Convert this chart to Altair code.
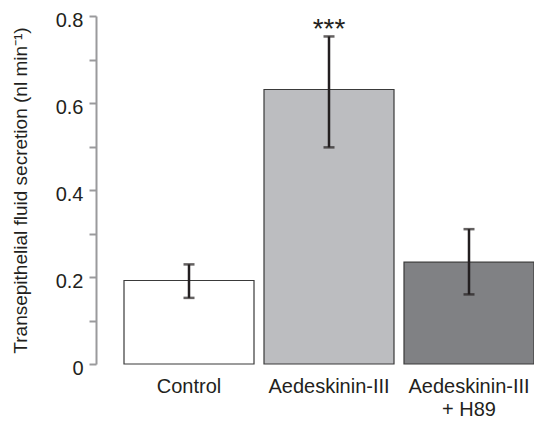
import altair as alt
import pandas as pd

categories = ["Control", "Aedeskinin-III", "Aedeskinin-III|+ H89"]
means = [0.192, 0.631, 0.234]
err_lo = [0.152, 0.498, 0.160]
err_hi = [0.229, 0.753, 0.310]
fills = ["#ffffff", "#bcbdc0", "#808184"]
stars = ["", "***", ""]

df = pd.DataFrame({
    "cat": categories, "mean": means, "lo": err_lo, "hi": err_hi,
    "fill": fills, "star": stars,
})

FONT = "Liberation Sans"
TXT = "#231f20"

x = alt.X("cat:N", sort=categories,
          scale=alt.Scale(paddingInner=0.0714, paddingOuter=0.1, align=1),
          axis=alt.Axis(title=None, domain=False, ticks=False, labelAngle=0,
                        labelFont=FONT, labelFontSize=20, labelColor=TXT,
                        labelPadding=12, labelLineHeight=23,
                        labelExpr="split(datum.label, '|')"))
y = alt.Y("mean:Q", scale=alt.Scale(domain=[0, 0.8], nice=False),
          axis=alt.Axis(title="Transepithelial fluid secretion (nl min\u207b\u00b9)",
                        values=[0, 0.1, 0.2, 0.3, 0.4, 0.5, 0.6, 0.7, 0.8],
                        labelExpr="round(datum.value*10) % 2 == 0 ? (datum.value == 0 ? '0' : format(datum.value, '.1f')) : ''",
                        grid=False, domainColor="#9a9a9c", domainWidth=2,
                        tickColor="#9a9a9c", tickWidth=2, tickSize=7,
                        labelFont=FONT, labelFontSize=20, labelColor=TXT,
                        labelPadding=6, labelOffset=4, labelFlush=False,
                        titleFont=FONT, titleFontSize=19,
                        titleFontWeight="normal", titleColor=TXT, titlePadding=25))

bars = alt.Chart(df).mark_bar(stroke="#3a3a3a", strokeWidth=1.2).encode(
    x=x, y=y, fill=alt.Fill("fill:N", scale=None))

rule = alt.Chart(df).mark_rule(color=TXT, strokeWidth=2.5).encode(
    x=alt.X("cat:N", sort=categories), y="lo:Q", y2="hi:Q")
cap_hi = alt.Chart(df).mark_tick(color=TXT, thickness=2.5, size=11).encode(
    x=alt.X("cat:N", sort=categories), y="hi:Q")
cap_lo = alt.Chart(df).mark_tick(color=TXT, thickness=2.5, size=11).encode(
    x=alt.X("cat:N", sort=categories), y="lo:Q")
txt = alt.Chart(df).mark_text(font=FONT, fontSize=28, color=TXT, baseline="alphabetic", dy=2).encode(
    x=alt.X("cat:N", sort=categories), y="hi:Q", text="star:N")

chart = alt.layer(bars, rule, cap_hi, cap_lo, txt).properties(
    width=438, height=348,
    autosize=alt.AutoSizeParams(type="none"),
    padding={"left": 88, "top": 8, "right": 0, "bottom": 55},
).configure_view(stroke=None)

chart.save("out.html", embed_options={"renderer": "svg", "actions": False})
